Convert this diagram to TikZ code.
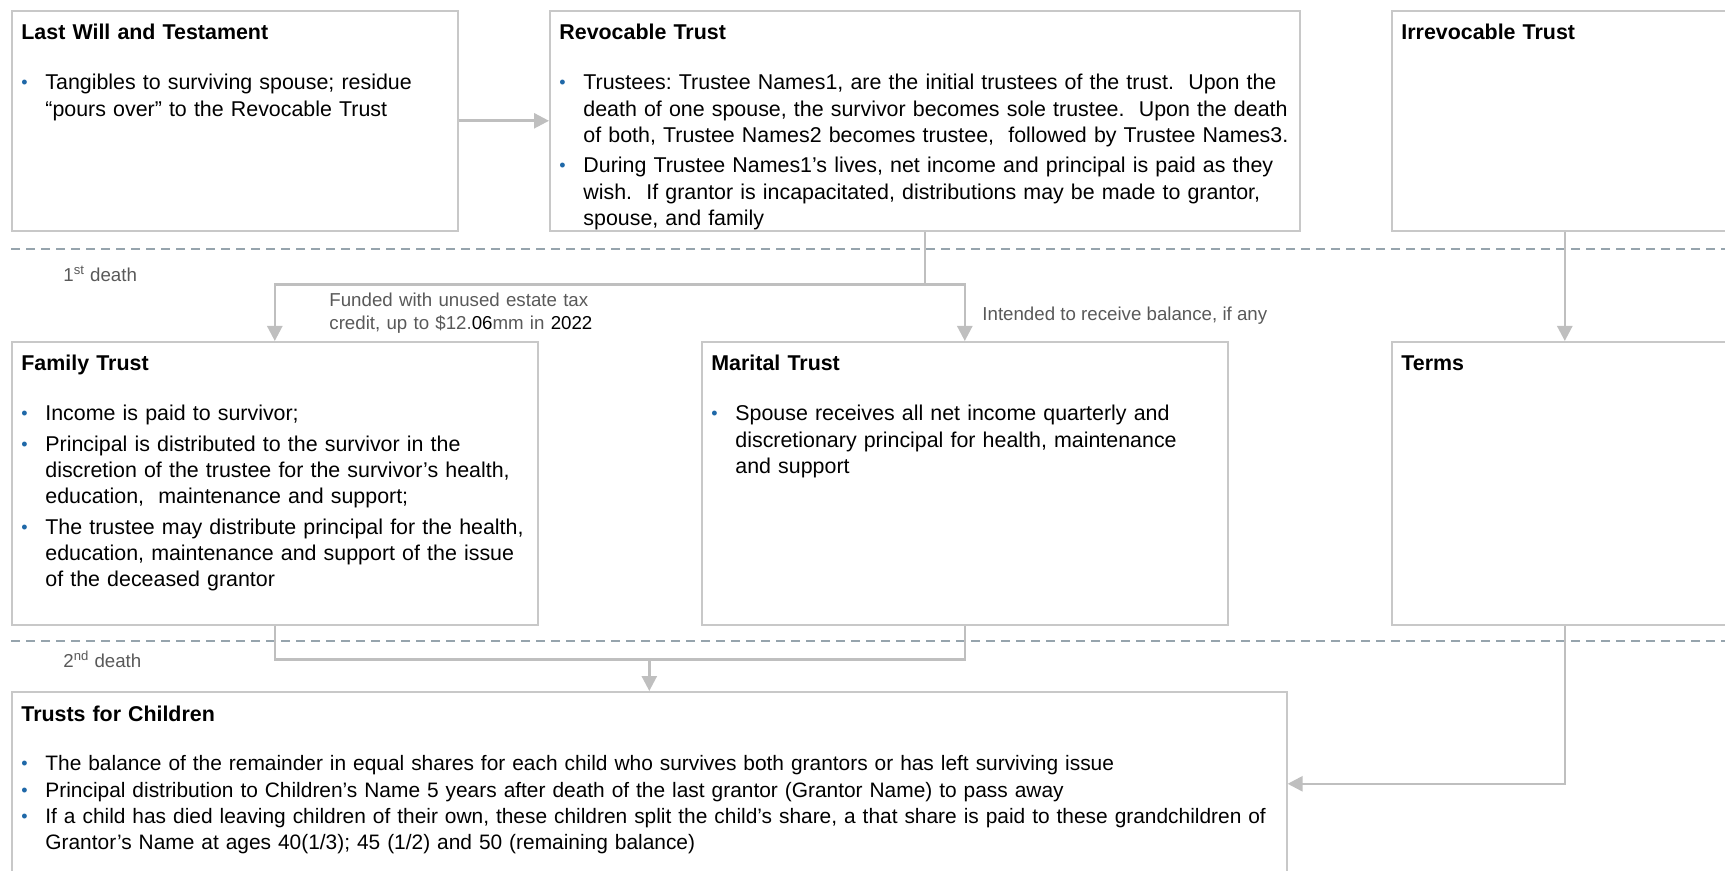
\documentclass[tikz,border=0pt]{standalone}
\usepackage{fontspec}
\setmainfont{Liberation Sans}
\usetikzlibrary{arrows.meta, calc}
\definecolor{boxgray}{RGB}{200,200,200}
\definecolor{linegray}{RGB}{191,191,191}
\definecolor{dashgray}{RGB}{150,164,173}
\definecolor{labelgray}{RGB}{89,89,89}
\definecolor{bulletblue}{RGB}{31,104,168}
\newlength{\itemgap}
\setlength{\itemgap}{2.2pt}
\newcommand{\nl}{\hfil\break}
\newcommand{\boxhead}[1]{{\bfseries #1}\par\vspace{9.7pt}}
\newcommand{\bitem}[1]{\par\vspace{\itemgap}\hangindent=12pt\hangafter=1\noindent\makebox[12pt][l]{\textcolor{bulletblue}{\raisebox{0.6pt}{\fontsize{9pt}{9pt}\selectfont\textbullet}}}#1\par}

\begin{document}
\begin{tikzpicture}[x=0.5pt, y=-0.5pt,
    box/.style={draw=boxgray, line width=0.8pt, fill=white, inner sep=0pt, anchor=north west},
    txt/.style={inner sep=0pt, anchor=base west, font=\fontsize{10.7pt}{13.1pt}\selectfont\frenchspacing},
    lbl/.style={inner sep=0pt, anchor=base west, text=labelgray, font=\fontsize{9.35pt}{11.5pt}\selectfont},
    conn/.style={draw=linegray, line width=1.3pt},
    arr/.style={conn, -{Triangle[length=7.5pt, width=7.5pt]}},
    sepline/.style={draw=dashgray, line width=1pt, dash pattern=on 4.5pt off 3pt}]
  \useasboundingbox (0,0) rectangle (1725,871);

  \draw[sepline] (11,249) -- (1740,249);
  \draw[sepline] (11,641) -- (1740,641);

  \node[box, minimum width=223pt, minimum height=110pt] (will) at (11,10) {};
  \node[box, minimum width=375pt, minimum height=110pt] (revoc) at (549,10) {};
  \node[box, minimum width=173pt, minimum height=110pt] (irrev) at (1391,10) {};
  \node[box, minimum width=263pt, minimum height=141.5pt] (family) at (11,341) {};
  \node[box, minimum width=263pt, minimum height=141.5pt] (marital) at (701,341) {};
  \node[box, minimum width=173pt, minimum height=141.5pt] (terms) at (1391,341) {};
  \node[box, minimum width=637.5pt, minimum height=92pt] (children) at (11,691) {};

  \node[txt, text width=215pt] (willtxt) at ($(will.north west)+(10,30)$) {\boxhead{Last Will and Testament}%
    \bitem{Tangibles to surviving spouse; residue\nl “pours over” to the Revocable Trust}};
  \node[txt, text width=400pt] (revoctxt) at ($(revoc.north west)+(10,30)$) {\boxhead{Revocable Trust}%
    \bitem{Trustees: Trustee Names1, are the initial trustees of the trust.\ \ Upon the\nl death of one spouse, the survivor becomes sole trustee.\ \ Upon the death\nl of both, Trustee Names2 becomes trustee,\ \ followed by Trustee Names3.}%
    \bitem{During Trustee Names1’s lives, net income and principal is paid as they\nl wish.\ \ If grantor is incapacitated, distributions may be made to grantor,\nl spouse, and family}};
  \node[txt, text width=165pt] (irrevtxt) at ($(irrev.north west)+(10,30)$) {\boxhead{Irrevocable Trust}};
  \node[txt, text width=280pt] (familytxt) at ($(family.north west)+(10,30)$) {\boxhead{Family Trust}%
    \bitem{Income is paid to survivor;}%
    \bitem{Principal is distributed to the survivor in the\nl discretion of the trustee for the survivor’s health,\nl education,\ \ maintenance and support;}%
    \bitem{The trustee may distribute principal for the health,\nl education, maintenance and support of the issue\nl of the deceased grantor}};
  \node[txt, text width=280pt] (maritaltxt) at ($(marital.north west)+(10,30)$) {\boxhead{Marital Trust}%
    \bitem{Spouse receives all net income quarterly and\nl discretionary principal for health, maintenance\nl and support}};
  \node[txt, text width=165pt] (termstxt) at ($(terms.north west)+(10,30)$) {\boxhead{Terms}};
  \node[txt, text width=660pt, font=\fontsize{10.45pt}{12.75pt}\selectfont\frenchspacing\setlength{\itemgap}{0.6pt}] (childrentxt) at ($(children.north west)+(10,30)$) {{\bfseries\fontsize{10.7pt}{12.75pt}\selectfont Trusts for Children}\par\vspace{11.4pt}%
    \bitem{The balance of the remainder in equal shares for each child who survives both grantors or has left surviving issue}%
    \bitem{Principal distribution to Children’s Name 5 years after death of the last grantor (Grantor Name) to pass away}%
    \bitem{If a child has died leaving children of their own, these children split the child’s share, a that share is paid to these grandchildren of\nl Grantor’s Name at ages 40(1/3); 45 (1/2) and 50 (remaining balance)}};

  \node[lbl] (death1) at (63,282) {1\textsuperscript{st} death};
  \node[lbl] (death2) at (63,668) {2\textsuperscript{nd} death};
  \node[lbl, text width=160pt] (funded) at (329,307) {Funded with unused estate tax\\ credit, up to \$12.\textcolor{black}{06}mm in \textcolor{black}{2022}};
  \node[lbl] (intended) at (982,321) {Intended to receive balance, if any};

  \draw[arr] (will) -- (revoc);
  \draw[conn] (revoc.south) -- ++(0,53) coordinate (split);
  \draw[arr] (split) -| (family.north);
  \draw[arr] (split) -| (marital.north);
  \draw[arr] (irrev) -- (terms);
  \draw[conn] (family.south) -- ++(0,34) coordinate (join) -| (marital.south);
  \draw[arr] (join -| children.north) -- (children.north);
  \draw[arr] (terms.south) |- (children.east);
\end{tikzpicture}
\end{document}
